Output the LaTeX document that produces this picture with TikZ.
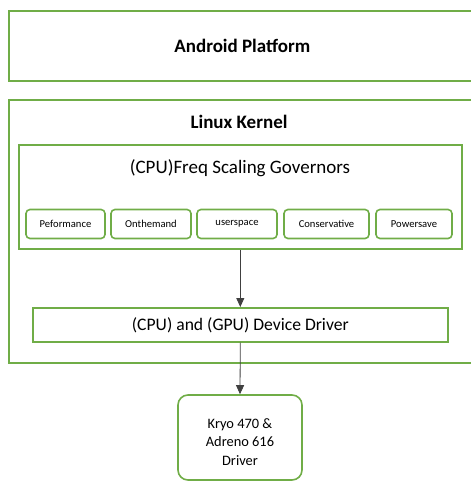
\documentclass[tikz,border=0pt]{standalone}
\usepackage{fontspec}
\setmainfont{Carlito}
\usetikzlibrary{positioning,arrows.meta}

\definecolor{layergreen}{RGB}{112,173,71}

\tikzset{
  layer/.style={draw=layergreen, line width=1.6pt, inner sep=0pt, anchor=north west},
  govbox/.style={draw=layergreen, line width=1.6pt, rounded corners=4pt, inner sep=0pt,
    minimum height=29pt, font=\fontsize{10.6}{12}\selectfont},
  flow/.style={-{Triangle[length=9pt,width=8pt]}, draw=black!75, line width=0.8pt}
}

\begin{document}
\begin{tikzpicture}[x=1pt, y=-1pt]

  \useasboundingbox (0,0) rectangle (471,482);

  % Android layer
  \node[layer, minimum width=467pt, minimum height=70pt,
        font=\fontsize{19}{22}\selectfont\bfseries] (android) at (8,10) {Android Platform};

  % Kernel layer
  \node[layer, minimum width=472pt, minimum height=263pt] (kernel) at (8,99) {};
  \node[font=\fontsize{19}{22}\selectfont\bfseries] (kernellabel) at (239,122) {Linux Kernel};

  % governors
  \node[layer, minimum width=443pt, minimum height=104pt] (gov) at (18,144) {};
  \node[font=\fontsize{19}{22}\selectfont] (govlabel) at (240,168) {(CPU)Freq Scaling Governors};

  \node[govbox, minimum width=79pt] (perf) at (65.5,224) {Peformance};
  \node[govbox, minimum width=80pt] (ondemand) at (151,224) {Onthemand};
  \node[govbox, minimum width=80pt] (user) at (237,224) {userspace};
  \node[govbox, minimum width=85pt] (cons) at (326.5,224) {Conservative};
  \node[govbox, minimum width=76pt] (power) at (414,224) {Powersave};

  % driver
  \node[layer, minimum width=415pt, minimum height=34pt,
        font=\fontsize{17.6}{20}\selectfont] (driver) at (32,307) {(CPU) and (GPU) Device Driver};

  % hardware
  \node[draw=layergreen, line width=1.6pt, rounded corners=10pt,
        minimum width=124pt, minimum height=85pt] (kryo) at (240,437.5) {};
  \node[align=center, font=\fontsize{14.4}{18.5}\selectfont, yshift=-4.5pt]
        (kryotext) at (kryo.center) {Kryo 470 \&\\Adreno 616\\Driver};

  \draw[flow] (gov.south) -- (driver.north);
  \draw[flow] (driver.south) -- (kryo.north);

\end{tikzpicture}
\end{document}
